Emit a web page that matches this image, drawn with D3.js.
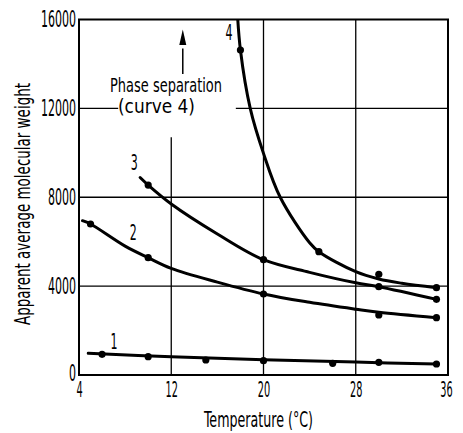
<!DOCTYPE html>
<html><head><meta charset="utf-8">
<script src="https://cdn.jsdelivr.net/npm/d3@7"></script>
<style>body{margin:0;background:#fff}svg{display:block}</style>
</head><body>
<svg id="chart" width="463" height="433"></svg>
<script>
// ---- data ----
const xTicks = [4, 12, 20, 28, 36];
const yTicks = [0, 4000, 8000, 12000, 16000];
const xTitle = "Temperature (°C)";
const yTitle = "Apparent average molecular weight";
const noteLines = ["Phase separation", "(curve 4)"];
const curveNames = ["1", "2", "3", "4"];

// measured points (temperature, molecular weight)
const pts1T = [6, 10, 15, 20, 26, 30, 35];
const pts1V = [930, 825, 675, 645, 525, 570, 495];
const pts2T = [5, 10, 20, 30, 35];
const pts2V = [6795, 5280, 3645, 2700, 2580];
const pts3T = [10, 20, 30, 35];
const pts3V = [8550, 5190, 3975, 3405];
const pts4T = [18, 24.8, 30, 35];
const pts4V = [14625, 5550, 4530, 3930];

// drawn (fitted) curves
const fit1T = [4.8, 12, 20, 28, 35];
const fit1V = [975, 820, 690, 580, 495];
const fit2T = [4.3, 5, 8, 10, 12, 16, 20, 24, 28, 30, 35];
const fit2V = [6945, 6795, 5800, 5280, 4800, 4180, 3645, 3270, 2960, 2820, 2580];
const fit3T = [9.3, 10, 12, 16, 20, 24, 28, 30, 35];
const fit3V = [8890, 8550, 7700, 6350, 5190, 4620, 4150, 3975, 3405];
const fit4T = [17.7, 18, 18.85, 20, 21.45, 24, 24.8, 28, 30, 32, 35];
const fit4V = [16600, 14625, 12000, 9975, 8000, 5950, 5550, 4650, 4320, 4130, 3930];

// grid segments: [value, from, to]
const vGrid = [[12, 0, 10700], [20, 0, 16000], [28, 0, 16000]];
const hGrid = [[4000, 4, 36], [8000, 4, 36], [12000, 4, 7.4], [12000, 17.6, 36]];

// ---- drawing ----
const FONT = "'Liberation Sans Narrow','DejaVu Sans Condensed','Arial Narrow',sans-serif";
const svg = d3.select("#chart");
const L = 79, R = 448, T = 19.5, B = 375;
const x = d3.scaleLinear().domain([4, 36]).range([L, R]);
const y = d3.scaleLinear().domain([0, 16000]).range([B, T]);

svg.append("defs").append("clipPath").attr("id", "clip")
  .append("rect").attr("x", L).attr("y", T).attr("width", R - L).attr("height", B - T);

// grid
svg.append("g").selectAll("line").data(vGrid).join("line")
  .attr("x1", d => x(d[0])).attr("x2", d => x(d[0]))
  .attr("y1", d => y(d[1])).attr("y2", d => y(d[2]))
  .attr("stroke", "#000").attr("stroke-width", 1.3);
svg.append("g").selectAll("line").data(hGrid).join("line")
  .attr("y1", d => y(d[0])).attr("y2", d => y(d[0]))
  .attr("x1", d => x(d[1])).attr("x2", d => x(d[2]))
  .attr("stroke", "#000").attr("stroke-width", 1.3);

// frame
svg.append("rect").attr("x", L).attr("y", T).attr("width", R - L).attr("height", B - T)
  .attr("fill", "none").attr("stroke", "#000").attr("stroke-width", 2);

// axes (labels only)
const xa = svg.append("g").attr("transform", `translate(0,${B})`)
  .call(d3.axisBottom(x).tickValues(xTicks).tickSize(0).tickPadding(7).tickFormat(d3.format("d")));
xa.select(".domain").remove();
xa.selectAll("text").attr("font-family", FONT).attr("font-size", 22).attr("fill", "#000")
  .attr("dy", "0.66em")
  .attr("textLength", d => String(d).length * 6.2).attr("lengthAdjust", "spacingAndGlyphs");
xa.selectAll(".tick").filter(d => d === 36).select("text").attr("x", -2);

const ya = svg.append("g").attr("transform", `translate(${L},0)`)
  .call(d3.axisLeft(y).tickValues(yTicks).tickSize(0).tickPadding(3).tickFormat(d3.format("d")));
ya.select(".domain").remove();
ya.selectAll("text").attr("font-family", FONT).attr("font-size", 23).attr("fill", "#000")
  .attr("textLength", d => String(d).length * 7).attr("lengthAdjust", "spacingAndGlyphs");
ya.selectAll(".tick").filter(d => d === 0).select("text").attr("dy", "0.22em");

// curves
const line = d3.line().x(d => x(d[0])).y(d => y(d[1])).curve(d3.curveCatmullRom.alpha(0.5));
const fits = [[fit1T, fit1V], [fit2T, fit2V], [fit3T, fit3V], [fit4T, fit4V]];
svg.append("g").attr("clip-path", "url(#clip)").selectAll("path").data(fits).join("path")
  .attr("d", d => line(d[0].map((t, i) => [t, d[1][i]])))
  .attr("fill", "none").attr("stroke", "#000").attr("stroke-width", 3).attr("stroke-linecap", "round");

// points
const pts = [[pts1T, pts1V], [pts2T, pts2V], [pts3T, pts3V], [pts4T, pts4V]]
  .flatMap(s => s[0].map((t, i) => [t, s[1][i]]));
svg.append("g").selectAll("circle").data(pts).join("circle")
  .attr("cx", d => x(d[0])).attr("cy", d => y(d[1])).attr("r", 3.6).attr("fill", "#000");

// curve numbers
const labelAt = [[7.04, 1170], [8.7, 6075], [8.8, 9225], [17.0, 15080]];
svg.append("g").selectAll("text").data(curveNames).join("text")
  .attr("x", (d, i) => x(labelAt[i][0])).attr("y", (d, i) => y(labelAt[i][1]))
  .attr("text-anchor", "middle").attr("font-family", FONT).attr("font-size", 21)
  .attr("textLength", 7).attr("lengthAdjust", "spacingAndGlyphs").text(d => d);

// annotation
const ax = x(13.0);
svg.append("line").attr("x1", ax).attr("x2", ax).attr("y1", y(13550)).attr("y2", y(14700))
  .attr("stroke", "#000").attr("stroke-width", 1.5);
svg.append("path")
  .attr("d", `M${ax},${y(15550)} L${ax - 3.5},${y(14850)} L${ax + 3.5},${y(14850)} Z`)
  .attr("fill", "#000");
svg.append("text").attr("x", 110).attr("y", 91.5).attr("font-family", FONT).attr("font-size", 19)
  .attr("textLength", 112).attr("lengthAdjust", "spacingAndGlyphs").text(noteLines[0]);
svg.append("text").attr("x", 118).attr("y", 112.5).attr("font-family", FONT).attr("font-size", 19)
  .attr("textLength", 77).attr("lengthAdjust", "spacingAndGlyphs").text(noteLines[1]);

// axis titles
svg.append("text").attr("x", 204).attr("y", 427).attr("font-family", FONT).attr("font-size", 21)
  .attr("textLength", 109).attr("lengthAdjust", "spacingAndGlyphs").text(xTitle);
svg.append("text").attr("transform", "translate(30,325) rotate(-90)")
  .attr("font-family", FONT).attr("font-size", 21)
  .attr("textLength", 242).attr("lengthAdjust", "spacingAndGlyphs").text(yTitle);
</script>
</body></html>
